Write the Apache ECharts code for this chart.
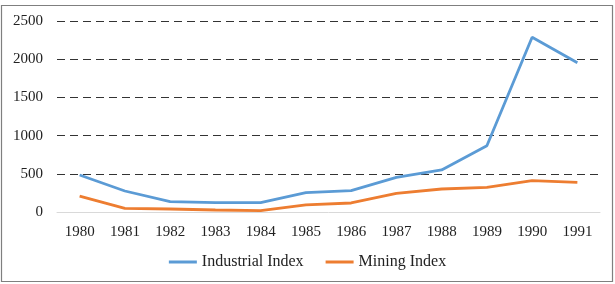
<!DOCTYPE html>
<html>
<head>
<meta charset="utf-8">
<script src="https://cdn.jsdelivr.net/npm/echarts@6/dist/echarts.min.js"></script>
<style>
  html, body { margin: 0; padding: 0; background: #fff; }
  #main { width: 615px; height: 284px; }
</style>
</head>
<body>
<div id="main"></div>
<script>
var years = ['1980', '1981', '1982', '1983', '1984', '1985', '1986', '1987', '1988', '1989', '1990', '1991'];
var industrialIndex = [484, 275, 135, 122, 122, 253, 279, 454, 550, 868, 2287, 1954];
var miningIndex = [209, 48, 39, 26, 17, 92, 118, 245, 301, 323, 410, 389];

var chart = echarts.init(document.getElementById('main'));
var font = 'Liberation Serif, Times New Roman, serif';

chart.setOption({
  animation: false,
  textStyle: { fontFamily: font },
  // outer frame
  graphic: [{
    type: 'rect',
    shape: { x: 1.5, y: 5.5, width: 611, height: 276 },
    style: { fill: 'none', stroke: '#7f7f7f', lineWidth: 1.2 },
    silent: true
  }],
  grid: { left: 57, right: 15, top: 21, bottom: 72 },
  legend: {
    bottom: 9,
    left: 'center',
    icon: 'rect',
    itemWidth: 28,
    itemHeight: 3,
    itemGap: 22,
    textStyle: { fontFamily: font, fontSize: 16, color: '#222' },
    data: ['Industrial Index', 'Mining Index']
  },
  xAxis: {
    type: 'category',
    data: years,
    boundaryGap: true,
    axisLine: { lineStyle: { color: '#d9d9d9', width: 1 } },
    axisTick: { show: false },
    axisLabel: { fontFamily: font, fontSize: 15, color: '#222', margin: 13 }
  },
  yAxis: {
    type: 'value',
    min: 0,
    max: 2500,
    interval: 500,
    axisLine: { show: false },
    axisTick: { show: false },
    axisLabel: {
      fontFamily: font, fontSize: 15, color: '#222', margin: 14,
      formatter: function (v) { return String(v); }
    },
    splitLine: {
      lineStyle: { color: '#333', type: [8, 5], width: 1.2 }
    }
  },
  series: [{
    name: 'Industrial Index',
    type: 'line',
    data: industrialIndex,
    symbol: 'none',
    lineStyle: { color: '#5b9bd5', width: 2.8 },
    itemStyle: { color: '#5b9bd5' }
  }, {
    name: 'Mining Index',
    type: 'line',
    data: miningIndex,
    symbol: 'none',
    lineStyle: { color: '#ed7d31', width: 2.8 },
    itemStyle: { color: '#ed7d31' }
  }]
});
</script>
</body>
</html>
